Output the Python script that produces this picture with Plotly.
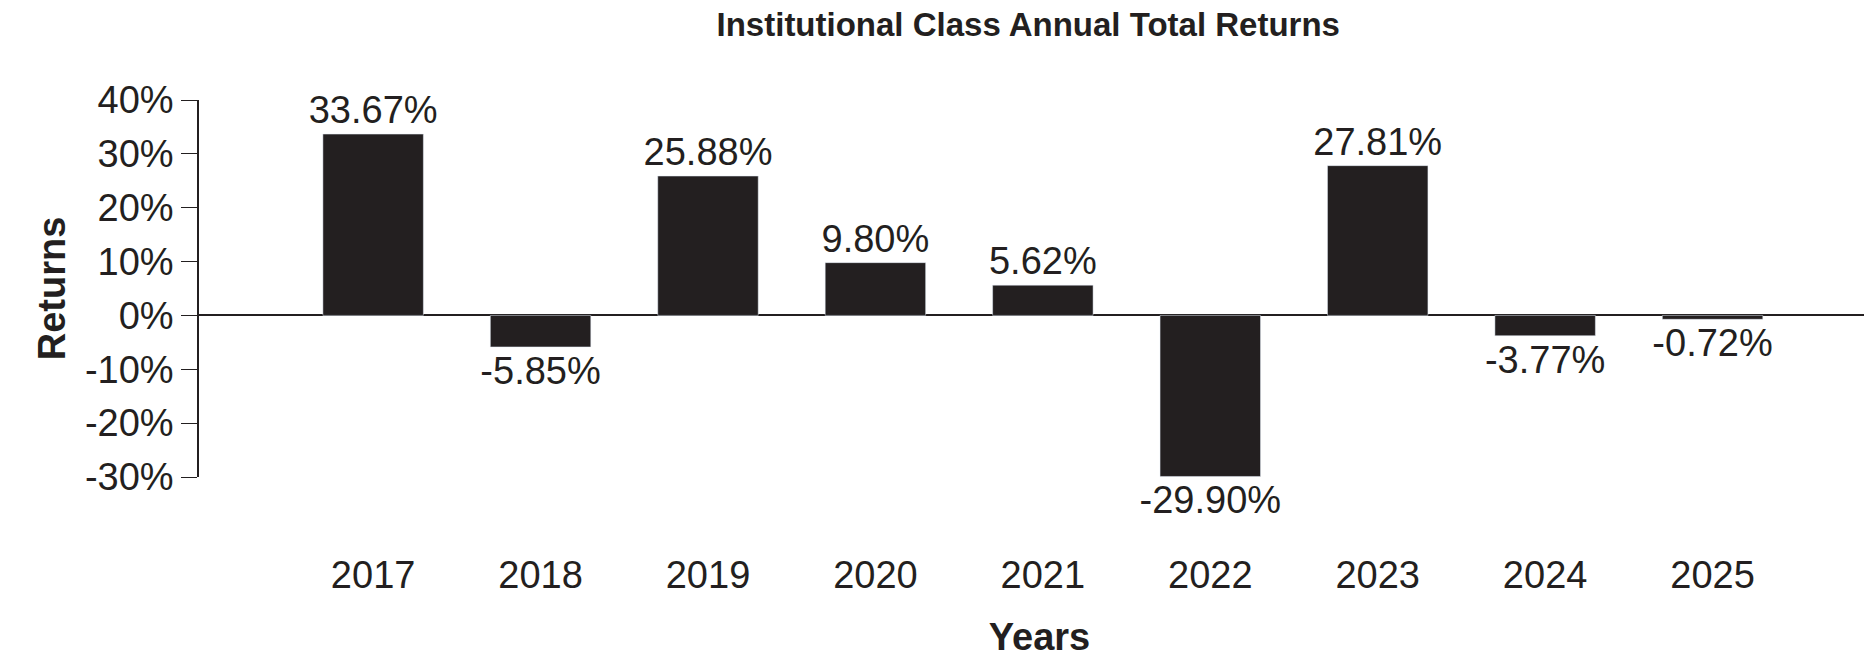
import plotly.graph_objects as go

years = ["2017", "2018", "2019", "2020", "2021", "2022", "2023", "2024", "2025"]
returns = [33.67, -5.85, 25.88, 9.80, 5.62, -29.90, 27.81, -3.77, -0.72]
y_ticks = [-30, -20, -10, 0, 10, 20, 30, 40]
y_tick_labels = ["-30%", "-20%", "-10%", "0%", "10%", "20%", "30%", "40%"]

font = "Liberation Sans, Arial, sans-serif"

fig = go.Figure(go.Bar(
    x=list(range(len(years))),
    y=returns,
    width=0.6,
    marker_color="#231f20",
    text=[f"{v:.2f}%" for v in returns],
    textposition="outside",
    constraintext="none",
    textfont=dict(size=38, color="#231f20", family=font),
    cliponaxis=False,
))

fig.update_layout(
    width=1872, height=659,
    margin=dict(l=191, r=0, t=92, b=190),
    plot_bgcolor="white", paper_bgcolor="white",
    showlegend=False,
    title=dict(text="<b>Institutional Class Annual Total Returns</b>",
               x=0.545, xanchor="center", y=0.975, yanchor="middle",
               font=dict(size=33, color="#231f20", family=font)),
    font=dict(family=font, color="#231f20"),
)
fig.update_xaxes(
    range=[-1.04, 9.0],
    tickvals=list(range(len(years))), ticktext=years,
    tickfont=dict(size=38), ticklabelstandoff=72,
    showline=False, showgrid=False, zeroline=False, ticks="",
    title=dict(text="<b>Years</b>", font=dict(size=38), standoff=28),
)
fig.update_yaxes(
    range=[-30, 40],
    tickvals=y_ticks, ticktext=y_tick_labels,
    tickfont=dict(size=38),
    showline=True, linecolor="#231f20", linewidth=1.5,
    ticks="outside", ticklen=16, tickcolor="#231f20",
    showgrid=False, zeroline=True, zerolinecolor="#231f20", zerolinewidth=1.5,
    title=dict(text="<b>Returns</b>", font=dict(size=38), standoff=8),
)

fig.write_html("out.html")
